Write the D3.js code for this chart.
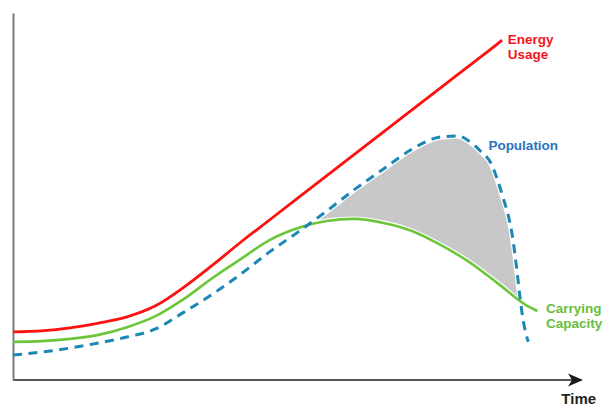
<!DOCTYPE html>
<html>
<head>
<meta charset="utf-8">
<script src="https://cdn.jsdelivr.net/npm/d3@7"></script>
<style>
  html, body { margin: 0; padding: 0; background: #fff; }
  svg { display: block; }
  text { font-family: "Liberation Sans", Arial, sans-serif; font-weight: bold; }
</style>
</head>
<body>
<svg id="chart" width="615" height="411"></svg>
<script>
// ---- data (time units 0..100, value units 0..100) ----
const timeMain = [0, 5, 10, 15, 20, 25, 30, 35, 40, 45, 50, 55, 60, 65, 70, 75, 80, 85];
const energyValues = [13.1, 13.4, 14.2, 15.5, 17.2, 20.2, 25.3, 31.3, 37.6, 43.6, 49.6, 55.6, 61.6, 67.6, 73.6, 79.6, 85.6, 91.6];
const energyEndTime = 85.8, energyEndValue = 92.6;

const capacityTime = [0, 5, 10, 15, 20, 25, 30, 35, 40, 45, 50, 55, 60, 65, 70, 75, 80, 85, 90, 92];
const capacityValues = [10.4, 10.6, 11.2, 12.3, 14.4, 17.4, 22.1, 27.8, 33.0, 38.1, 41.4, 43.3, 43.9, 42.8, 40.6, 36.8, 32.2, 26.4, 20.4, 18.8];

const populationTime = [0, 5, 10, 15, 20, 25, 30, 35, 40, 45, 50, 55, 60, 65, 70, 75, 78, 80, 82, 84, 85, 86, 87, 87.5, 88, 88.5, 89, 89.5, 90, 90.4];
const populationValues = [6.8, 7.6, 8.7, 10.1, 11.7, 13.9, 18.5, 23.4, 28.9, 34.9, 40.3, 46.0, 52.0, 57.5, 62.9, 66.2, 66.5, 65.1, 62.4, 58.6, 54.5, 49.6, 44.1, 40.3, 34.9, 28.6, 21.8, 16.3, 12.5, 10.4];

const seriesLabels = [
  { lines: ["Energy", "Usage"], color: "#f5141e", t: 86.8, v: 91.5 },
  { lines: ["Population"], color: "#2a72bf", t: 83.4, v: 62.7 },
  { lines: ["Carrying", "Capacity"], color: "#68be3c", t: 93.5, v: 18.2 }
];
const axisLabel = "Time";

// ---- layout ----
const svg = d3.select("#chart");
const x = d3.scaleLinear().domain([0, 100]).range([13, 583]);
const y = d3.scaleLinear().domain([0, 100]).range([380, 13]);

const energy = timeMain.map((t, i) => ({ t, v: energyValues[i] })).concat([{ t: energyEndTime, v: energyEndValue }]);
const capacity = capacityTime.map((t, i) => ({ t, v: capacityValues[i] }));
const population = populationTime.map((t, i) => ({ t, v: populationValues[i] }));

const line = d3.line().x(d => x(d.t)).y(d => y(d.v)).curve(d3.curveMonotoneX);

// grey overshoot area: under population, clipped to above carrying capacity
const defs = svg.append("defs");
defs.append("clipPath").attr("id", "aboveCap")
  .append("path")
  .attr("d", d3.area().x(d => x(d.t)).y0(y(100)).y1(d => y(d.v)).curve(d3.curveMonotoneX)(capacity));

svg.append("path")
  .attr("clip-path", "url(#aboveCap)")
  .attr("d", d3.area().x(d => x(d.t)).y0(y(0)).y1(d => y(d.v)).curve(d3.curveMonotoneX)(population))
  .attr("fill", "#c9c8c9");

// white halos
svg.append("path").attr("d", line(population)).attr("fill", "none").attr("stroke", "#fff").attr("stroke-width", 5.5);
svg.append("path").attr("d", line(capacity)).attr("fill", "none").attr("stroke", "#fff").attr("stroke-width", 5);

// axes
const xAxis = svg.append("g").attr("transform", `translate(0,${y(0)})`)
  .call(d3.axisBottom(x).ticks(0).tickSizeOuter(0));
xAxis.select(".domain").attr("stroke", "#555").attr("stroke-width", 2).attr("d", `M${x(0)},0H${x(100) - 8}`);
const yAxis = svg.append("g").attr("transform", `translate(${x(0)},0)`)
  .call(d3.axisLeft(y).ticks(0).tickSizeOuter(0));
yAxis.select(".domain").attr("stroke", "#7a7a7a").attr("stroke-width", 2);

// arrowhead
const ax = x(100), ay = y(0);
svg.append("path")
  .attr("d", `M${ax},${ay} L${ax - 15},${ay - 6.5} L${ax - 11},${ay} L${ax - 15},${ay + 6.5} Z`)
  .attr("fill", "#1a1a1a");

// lines
svg.append("path").attr("d", line(capacity)).attr("fill", "none").attr("stroke", "#6cc63a").attr("stroke-width", 2.6);
svg.append("path").attr("d", line(energy)).attr("fill", "none").attr("stroke", "#ff1010").attr("stroke-width", 2.8);
svg.append("path").attr("d", line(population)).attr("fill", "none").attr("stroke", "#1b87b5")
  .attr("stroke-width", 3).attr("stroke-dasharray", "9,6.5");

// labels
seriesLabels.forEach(l => {
  const txt = svg.append("text").attr("x", x(l.t)).attr("y", y(l.v))
    .attr("fill", l.color).attr("font-size", 13.5);
  l.lines.forEach((s, i) => {
    txt.append("tspan").attr("x", x(l.t)).attr("dy", i === 0 ? 0 : 15).text(s);
  });
});

svg.append("text").attr("x", x(96.2)).attr("y", 404)
  .attr("fill", "#222").attr("font-size", 15).text(axisLabel);
</script>
</body>
</html>
